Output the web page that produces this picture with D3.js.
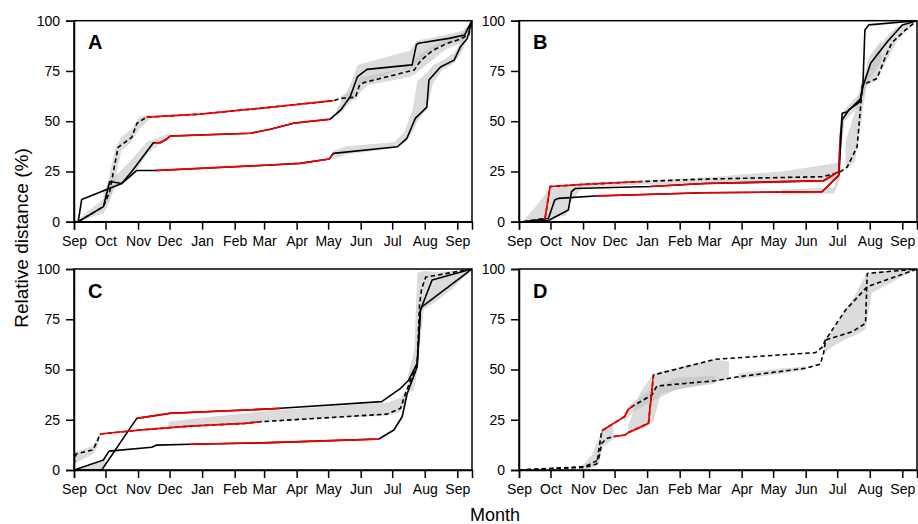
<!DOCTYPE html>
<html><head><meta charset="utf-8">
<script src="https://cdn.jsdelivr.net/npm/d3@7"></script>
<style>body{margin:0;background:#fff}svg{display:block;font-family:"Liberation Sans",Arial,sans-serif}</style>
</head><body><svg id="c" width="918" height="524"></svg>
<script>
// x values: days since 1 September; y values: relative distance (%)
const monthDays = [0,30,61,91,122,153,181,212,242,273,303,334,365];
const monthLabels = ["Sep","Oct","Nov","Dec","Jan","Feb","Mar","Apr","May","Jun","Jul","Aug","Sep"];
const yTicks = [0,25,50,75,100];
const dayDomain = [0,379];
const panelLabels = ["A","B","C","D"];

// ---- Panel A ----
const A_dash = [[4,0],[28,7.5],[34,15],[39,29],[42,37],[55,42],[60,49],[69,52],[120,53.5],[177,56.4],[247,60.2],[254,61.4],[268,61.9],[272,68],[276,69.2],[324,75.5],[330,80],[341,85],[355,88.7],[366,90.5],[376,93],[379,100]];
const A_dashRed = [69,247];
const A_mid = [[4,0],[28,7.5],[34,20],[45.5,19],[55,25],[75.6,39.3],[82,39.3],[88,41],[91.5,42.6],[168,44],[187,46],[209,49],[244,51],[254,55.6],[263,62.2],[270,72.2],[279,75.8],[322,78],[326,88],[328,88.8],[357,91.2],[372,92.9],[379,100]];
const A_midRed = [77,244];
const A_low = [[4,0],[7.3,11],[45.5,19],[59.8,25.5],[79,25.5],[187,28.2],[215,29],[243,31.2],[247,34],[308,37.3],[317,41.5],[325,51.4],[336,57],[338,70.5],[349,77],[362,80.4],[368,87],[374.5,91.2],[379,100]];
const A_lowRed = [78,246];
const A_band1 = [[4,0,1],[20,3,8],[28,4,11],[34,10,24],[39,20,36],[45,35,42],[55,40,46],[62,46,52],[72,51,53.5]];
const A_band2 = [[254,60,62.5],[268,60.5,66],[272,64,72],[280,68,72.5],[320,72,77],[326,74,82],[340,80,87],[355,86,91],[370,89,94],[379,98,100]];
const A_band3 = [[28,7,16],[40,17,23],[55,22,31],[70,34,40],[80,38,41.5],[90,41,44]];
const A_band4 = [[250,52,56],[263,59,68],[270,68,78],[312,76,84],[320,76,85],[326,78,90],[350,88,92.5],[370,90,95],[379,98,100]];
const A_band5 = [[246,31,35],[260,33.5,37.5],[305,36.5,39.5],[315,39,45],[322,44,55],[327,50,70],[336,56,74],[342,69,78],[350,75,80],[362,79,84],[370,85,91],[379,98,100]];

// ---- Panel B ----
const B_dash = [[4,0],[24.8,1.6],[29.6,17.5],[60,18.5],[117,20],[177,21.2],[289,22.4],[305,24.5],[312.5,27.2],[322,37.3],[325,55.6],[327,68],[341,71.3],[349,82.1],[355,89],[368,95.4],[379,100]];
const B_dashRed = [24,117];
const B_mid = [[4,0],[28,0.6],[47,5.8],[50,15],[53.4,16.5],[125,17.5],[177,19],[290,20.4],[304.6,25],[305.5,37.3],[307.7,53.9],[312.5,54.7],[325,61],[327.5,67.1],[334.8,78.8],[350.7,89.5],[365,97.9],[379,100]];
const B_midRed = [125,305.5];
const B_low = [[4,0],[28,1.6],[34,10.8],[37.5,11.6],[72.5,12.8],[177,14.4],[288.6,14.9],[304.6,23.2],[307.7,50.6],[314,55.6],[325,59.7],[327.5,68],[329.4,95.4],[333,97.9],[379,100]];
const B_lowRed = [74,304.6];
const B_band1 = [[4,0,0.5],[15,0.5,7],[24,1,13],[30,2,17.5],[45,3,18],[47,8,18.5],[60,17,19.5],[117,18.5,20.5],[177,18.5,22],[250,19,25],[300,20,29],[306,21,30]];
const B_band2 = [[311,26,40],[320,30,55],[326,50,70],[331,68,74],[340,70,85],[350,80,92],[360,90,97],[379,100,100]];
const B_band3 = [[250,13.5,16],[300,14,17],[305,20,26]];
const B_band4 = [[305,30,45],[310,50,56],[325,58,64],[333,70,82],[345,80,90]];

// ---- Panel C ----
const C_top = [[0,0],[26.4,0],[59.8,25.7],[91.5,28.2],[187,30.4],[196.5,30.7],[293,34],[311,40.6],[318.8,44.8],[326.8,53.1],[329.9,79.6],[331.5,81.3],[379,100]];
const C_topRed = [59.8,196.5];
const C_mid = [[0,3],[2,8],[18,10],[22,14],[24.8,17.9],[64.5,20],[110,21.8],[163,23.2],[177,24],[298,27.8],[311,30.7],[315.7,38.1],[320,44],[326.8,53],[329,82],[331,90],[335,96],[379,100]];
const C_midRed = [24.8,177];
const C_low = [[0,0],[28,5],[33.4,9.4],[74,11.3],[78.8,12.4],[110.6,12.8],[187,13.6],[290.3,15.4],[304.6,19.9],[312.5,26.5],[317.3,38.1],[326.8,51.4],[329.9,79.6],[341,94.5],[379,100]];
const C_lowRed = [110.6,290.3];
const C_band1 = [[0,0,0],[26.4,0,4.7],[30,2.7,6.5]];
const C_band2 = [[0,3,9],[18,8,12],[22,11,16],[25,17,19]];
const C_band3 = [[90,21,24],[130,22,26.5],[187,24,29.5],[250,26,32],[298,27,33.5],[311,29,36],[316,35,40]];
const C_band4 = [[318,38,47],[324,40,60],[327,50,98],[333,80,99],[345,84,98.5],[360,90,99],[379,100,100]];

// ---- Panel D ----
const D_a = [[0,0],[62.9,1.3],[74,3],[78.8,19.5],[100.4,26.5],[104.3,30.3],[109,32],[126.5,37.3],[131.3,41.8],[187,44.4],[209,46.4],[273,50.6],[287,52.7],[290,58],[292,64.7],[317.3,68.8],[330,73],[331.6,97.8],[379,100]];
const D_aRed = [78.8,109];
const D_b = [[0,0],[62.9,1.7],[75.6,5],[78.8,13.3],[83.6,15.7],[90,16.6],[101.1,17.4],[104.3,18.7],[123.3,23.2],[128.1,47.3],[187,55.1],[282.3,58.4],[288.6,61],[291.9,64.7],[311,79.6],[331.6,91.2],[379,100]];
const D_bRed = [90,128.1];
const D_band1 = [[60,0,2],[70,1,8],[76,3,16],[80,12,21],[90,15,22]];
const D_band2 = [[100,24,28],[109,29,34],[126,34,40],[150,40,46],[187,43,47]];
const D_band3 = [[104,18,22],[115,20,38],[128,24,48],[135,38,49],[160,41,52],[187,44,55],[200,45,54]];
const D_band4 = [[209,45,48],[250,48,50.5],[273,50,51.5]];
const D_band5 = [[290,58,65],[300,62,70],[311,65,80],[320,67,87],[330,70,97],[336,88,98],[350,92,99],[379,100,100]];

const panels = [
  {col:0,row:0, bands:[A_band1,A_band2,A_band3,A_band4,A_band5],
   lines:[{pts:A_low,red:A_lowRed,dashed:false},{pts:A_mid,red:A_midRed,dashed:false},{pts:A_dash,red:A_dashRed,dashed:true}]},
  {col:1,row:0, bands:[B_band1,B_band2,B_band3,B_band4],
   lines:[{pts:B_low,red:B_lowRed,dashed:false},{pts:B_mid,red:B_midRed,dashed:false},{pts:B_dash,red:B_dashRed,dashed:true}]},
  {col:0,row:1, bands:[C_band1,C_band2,C_band3,C_band4],
   lines:[{pts:C_low,red:C_lowRed,dashed:false},{pts:C_top,red:C_topRed,dashed:false},{pts:C_mid,red:C_midRed,dashed:true}]},
  {col:1,row:1, bands:[D_band1,D_band2,D_band3,D_band4,D_band5],
   lines:[{pts:D_a,red:D_aRed,dashed:true},{pts:D_b,red:D_bRed,dashed:true}]}
];

const W = 398, H = 201;
const X0 = [74,519], Y0 = [20.7,269];
const svg = d3.select("#c");
const defs = svg.append("defs");

panels.forEach((p,pi)=>{
  const g = svg.append("g").attr("transform",`translate(${X0[p.col]},${Y0[p.row]})`);
  const x = d3.scaleLinear().domain(dayDomain).range([0,W]);
  const y = d3.scaleLinear().domain([0,100]).range([H,0]);
  defs.append("clipPath").attr("id",`clip${pi}`).append("rect").attr("width",W).attr("height",H);
  const content = g.append("g").attr("clip-path",`url(#clip${pi})`);
  const area = d3.area().x(d=>x(d[0])).y0(d=>y(d[1])).y1(d=>y(d[2]));
  const line = d3.line().x(d=>x(d[0])).y(d=>y(d[1]));
  p.bands.forEach(b=>{
    content.append("path").datum(b).attr("d",area).attr("fill","#bdbdbd").attr("fill-opacity",0.55);
  });
  p.lines.forEach(l=>{
    content.append("path").datum(l.pts).attr("d",line).attr("fill","none")
      .attr("stroke","#000").attr("stroke-width",1.6).attr("stroke-linejoin","round")
      .attr("stroke-dasharray",l.dashed?"4.5,3":null);
  });
  p.lines.forEach((l,li)=>{
    const cid = `rc${pi}_${li}`;
    defs.append("clipPath").attr("id",cid).append("rect")
      .attr("x",x(l.red[0])).attr("y",-5).attr("width",x(l.red[1])-x(l.red[0])).attr("height",H+10);
    content.append("g").attr("clip-path",`url(#${cid})`)
      .append("path").datum(l.pts).attr("d",line).attr("fill","none")
      .attr("stroke","#f00000").attr("stroke-width",1.7).attr("stroke-linejoin","round");
  });
  g.append("rect").attr("width",W).attr("height",H).attr("fill","none").attr("stroke","#000").attr("stroke-width",1.5);
  const ya = g.append("g").call(d3.axisLeft(y).tickValues(yTicks).tickSize(8).tickPadding(6));
  const xa = g.append("g").attr("transform",`translate(0,${H})`)
    .call(d3.axisBottom(x).tickValues(monthDays).tickFormat((d,i)=>monthLabels[i]).tickSize(8).tickPadding(6));
  [ya,xa].forEach(a=>{
    a.select(".domain").attr("stroke-width",1.5);
    a.selectAll(".tick line").attr("stroke-width",1.5);
    a.selectAll("text").attr("font-size",14).attr("fill","#000").attr("font-family","'Liberation Sans',Arial,sans-serif");
  });
  g.append("text").attr("x",14).attr("y",28.5).attr("font-size",20).attr("font-weight","bold")
    .text(panelLabels[pi]);
});

svg.append("text").attr("x",495).attr("y",521).attr("text-anchor","middle").attr("font-size",18).text("Month");
svg.append("text").attr("transform","translate(28,238) rotate(-90)").attr("text-anchor","middle").attr("font-size",19).text("Relative distance (%)");
</script>
</body></html>
